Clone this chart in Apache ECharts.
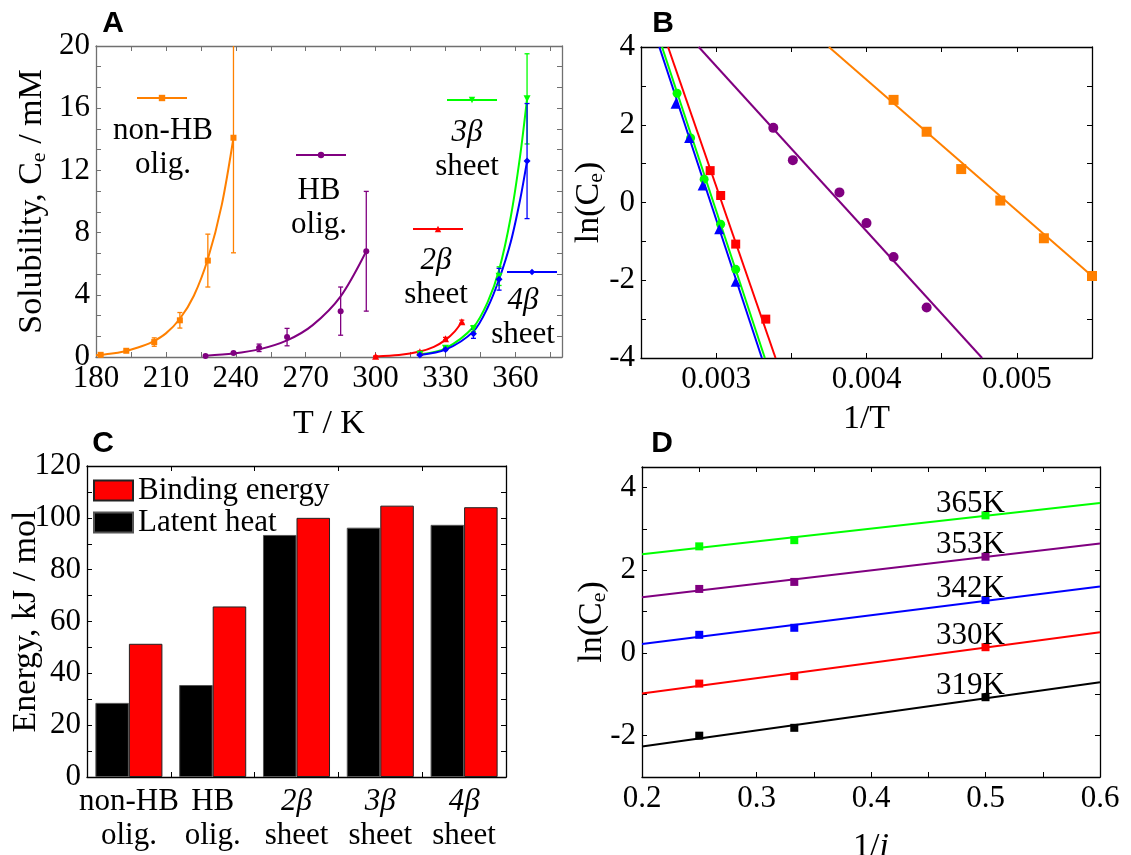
<!DOCTYPE html>
<html>
<head>
<meta charset="utf-8">
<script src="https://cdn.jsdelivr.net/npm/echarts@6/dist/echarts.min.js"></script>
<style>
  html, body { margin: 0; padding: 0; background: #fff; }
  #chart { width: 1131px; height: 855px; }
</style>
</head>
<body>
<div id="chart"></div>
<script>
// ==================== 数据 ====================

// 面板A：溶解度 vs 温度（数据点 + 误差）
const tNonHB = [182, 193, 205, 216, 228, 239];
const cNonHB = [0.14, 0.40, 0.96, 2.36, 6.2, 14.1];
const eNonHB = [0.05, 0.10, 0.27, 0.50, 1.7, 7.4];
const tHB = [227, 239, 250, 262, 285, 296];
const cHB = [0.07, 0.25, 0.59, 1.28, 2.95, 6.8];
const eHB = [0.05, 0.08, 0.24, 0.56, 1.55, 3.85];
const t2b = [300, 319, 330, 337];
const c2b = [0.05, 0.34, 1.18, 2.27];
const e2b = [0.02, 0.05, 0.08, 0.10];
const t34b = [319, 330, 342, 353, 365];
const c3b = [0.18, 0.57, 1.82, 5.2, 16.6];
const e3b = [0.03, 0.06, 0.20, 0.6, 2.9];
const c4b = [0.13, 0.48, 1.50, 5.0, 12.6];
const e4b = [0.03, 0.06, 0.30, 0.7, 3.7];

// 面板A：拟合曲线（读图取点）
const fitTNonHB = [180, 186, 192, 198, 204, 210, 216, 222, 228, 234, 239];
const fitCNonHB = [0.12, 0.21, 0.36, 0.61, 0.96, 1.52, 2.46, 3.94, 6.3, 9.8, 14.1];
const fitTHB = [227, 239, 250, 262, 273, 285, 296];
const fitCHB = [0.088, 0.225, 0.49, 1.07, 2.05, 3.9, 6.8];
const fitT2b = [300, 310, 319, 325, 330, 334, 337];
const fitC2b = [0.04, 0.13, 0.35, 0.65, 1.1, 1.65, 2.25];
const fitT34b = [319, 330, 342, 348, 353, 358, 362, 365];
const fitC3b = [0.17, 0.56, 1.93, 3.5, 5.6, 9.0, 12.9, 16.6];
const fitC4b = [0.135, 0.47, 1.65, 3.15, 5.0, 7.4, 10.1, 12.6];

// 面板B：ln(Ce) vs 1/T
const invTNonHB = [0.00418, 0.00440, 0.00463, 0.00489, 0.00518, 0.00550];
const lnNonHB = [2.64, 1.82, 0.86, 0.05, -0.92, -1.89];
const invTHB = [0.00338, 0.00351, 0.00382, 0.00400, 0.00418, 0.00440];
const lnHB = [1.92, 1.09, 0.26, -0.53, -1.40, -2.70];
const invT2b = [0.00296, 0.00303, 0.00313, 0.00333];
const ln2b = [0.82, 0.18, -1.07, -3.00];
const invT3b = [0.00274, 0.00283, 0.00292, 0.00303, 0.00313];
const ln3b = [2.81, 1.66, 0.60, -0.56, -1.72];
const invT4b = [0.00273, 0.00282, 0.00291, 0.00302, 0.00313];
const ln4b = [2.54, 1.66, 0.44, -0.69, -2.04];

// 面板B：拟合直线端点
const lineInvTNonHB = [0.00375, 0.0055];
const lineLnNonHB = [4, -1.89];
const lineInvTHB = [0.002884, 0.004769];
const lineLnHB = [4, -4];
const lineInvT2b = [0.00268, 0.003395];
const lineLn2b = [4, -4];
const lineInvT3b = [0.00264, 0.003324];
const lineLn3b = [4, -4];
const lineInvT4b = [0.002622, 0.003304];
const lineLn4b = [4, -4];

// 面板C：能量柱状图
const energyCats = ['non-HB\nolig.', 'HB\nolig.', '2β\nsheet', '3β\nsheet', '4β\nsheet'];
const latentHeat = [28.6, 35.5, 93.4, 96.2, 97.3];
const bindingEnergy = [51.4, 65.8, 100.0, 104.7, 104.1];

// 面板D：ln(Ce) vs 1/i
const invI = [0.25, 0.333, 0.5];
const tempLabels = ['365K', '353K', '342K', '330K', '319K'];
const lnC365 = [2.58, 2.73, 3.33];
const lnC353 = [1.55, 1.72, 2.33];
const lnC342 = [0.44, 0.61, 1.28];
const lnC330 = [-0.74, -0.56, 0.14];
const lnC319 = [-2.00, -1.81, -1.07];
const fitInvI = [0.2, 0.6];
const fit365 = [2.39, 3.63];
const fit353 = [1.35, 2.65];
const fit342 = [0.22, 1.61];
const fit330 = [-0.98, 0.50];
const fit319 = [-2.26, -0.71];

// ==================== 样式 ====================
const FONT = 'Liberation Serif';
const TICK_SIZE = 31;
const TITLE_SIZE = 34;
const ORANGE = '#FF8000';
const PURPLE = '#800080';
const RED = '#FF0000';
const GREEN = '#00FF00';
const BLUE = '#0000FF';

// 下标样式（Ce）
const SUB_RICH = {
  m: { fontFamily: FONT, fontSize: TITLE_SIZE, lineHeight: 40, color: '#000' },
  s: { fontFamily: FONT, fontSize: 22, lineHeight: 22, padding: [16, 0, 0, 0], verticalAlign: 'top', color: '#000' },
  i: { fontFamily: FONT, fontSize: TITLE_SIZE, fontStyle: 'italic', color: '#000' }
};
// 刻度标签用富文本，保证衬线字体
const TICK_RICH = {
  n: { fontFamily: FONT, fontSize: TICK_SIZE, color: '#000' }
};

const zip = (xs, ys) => xs.map((x, i) => [x, ys[i]]);

/**
 * 数值轴（主轴带标签，镜像轴只画刻度）
 */
function valueAxis(gridIndex, position, cfg, frame) {
  const isMain = position === 'bottom' || position === 'left';
  const fmt = cfg.formatter || (v => String(v));
  return {
    type: 'value',
    gridIndex,
    position,
    min: cfg.min,
    max: cfg.max,
    interval: cfg.interval,
    axisLine: { show: true, onZero: false, lineStyle: { color: frame, width: 1.3 } },
    axisTick: { show: true, inside: true, length: 5, lineStyle: { color: frame, width: 1 } },
    minorTick: { show: !!cfg.minor, splitNumber: cfg.minor || 2, length: 5, lineStyle: { color: frame, width: 1 } },
    splitLine: { show: false },
    minorSplitLine: { show: false },
    axisLabel: isMain ? {
      show: true,
      fontFamily: FONT,
      fontSize: TICK_SIZE,
      color: '#000',
      margin: cfg.margin == null ? 6 : cfg.margin,
      formatter: v => { const s = fmt(v); return s ? '{n|' + s + '}' : ''; },
      rich: TICK_RICH
    } : { show: false },
    name: isMain ? cfg.name : '',
    nameLocation: 'middle',
    nameGap: cfg.nameGap,
    nameMoveOverlap: false,
    nameTextStyle: { fontFamily: FONT, fontSize: TITLE_SIZE, color: '#000', rich: SUB_RICH }
  };
}

function categoryAxis(gridIndex, position, data, cfg) {
  const isMain = position === 'bottom';
  return {
    type: 'category',
    gridIndex,
    position,
    data,
    axisLine: { show: true, onZero: false, lineStyle: { color: '#000', width: 1.3 } },
    axisTick: { show: true, inside: true, length: 5, lineStyle: { color: '#000' } },
    splitLine: { show: false },
    axisLabel: isMain ? {
      show: true,
      interval: 0,
      fontFamily: FONT,
      fontSize: TICK_SIZE,
      lineHeight: 34,
      color: '#000',
      margin: cfg.margin,
      formatter: v => v.replace(/(\dβ)/, '{it|$1}'),
      rich: { it: { fontFamily: FONT, fontSize: TICK_SIZE, fontStyle: 'italic', lineHeight: 34, color: '#000' } }
    } : { show: false }
  };
}

// 坐标轴配置
const axisA_x = { min: 180, max: 380, interval: 15, formatter: v => (v % 30 === 0 ? String(v) : ''), name: 'T / K', nameGap: 50 };
const axisA_y = { min: 0, max: 20, interval: 4, minor: 3, name: '{m|Solubility, C}{s|e}{m| / mM}', nameGap: 44 };
const axisB_x = {
  min: 0.0025, max: 0.0055, interval: 0.0005,
  formatter: v => { const k = v * 1000; return Math.abs(k - Math.round(k)) < 1e-6 ? v.toFixed(3) : ''; },
  name: '1/T', nameGap: 44
};
const axisB_y = { min: -4, max: 4, interval: 2, minor: 2, name: '{m|ln(C}{s|e}{m|)}', nameGap: 32 };
const axisC_y = { min: 0, max: 120, interval: 20, minor: 2, name: 'Energy, kJ / mol', nameGap: 44 };
const axisD_x = { min: 0.2, max: 0.6, interval: 0.1, minor: 2, name: '{m|1/}{i|i}', nameGap: 50 };
const axisD_y = {
  min: -3, max: 4.5, interval: 1,
  formatter: v => (Math.abs(v % 2) < 1e-9 ? String(v) : ''),
  name: '{m|ln(C}{s|e}{m|)}', nameGap: 30
};

// ==================== 系列构造 ====================

function curve(name, xs, ys, color, axis, symbol, rotate, smooth) {
  return {
    type: 'line',
    name,
    xAxisIndex: axis,
    yAxisIndex: axis,
    data: zip(xs, ys),
    smooth: smooth ? 0.3 : false,
    symbol: symbol || 'none',
    symbolSize: 6,
    symbolRotate: rotate || 0,
    showSymbol: false,
    lineStyle: { color, width: 2 },
    itemStyle: { color },
    silent: true,
    z: 2
  };
}

function points(name, xs, ys, color, axis, symbol, size, rotate) {
  return {
    type: 'scatter',
    name,
    xAxisIndex: axis,
    yAxisIndex: axis,
    data: zip(xs, ys),
    symbol,
    symbolSize: size,
    symbolRotate: rotate || 0,
    itemStyle: { color, opacity: 1 },
    silent: true,
    z: 4
  };
}

// 误差棒（自定义系列）
function errorBars(name, xs, ys, errs, color, axis) {
  return {
    type: 'custom',
    name,
    xAxisIndex: axis,
    yAxisIndex: axis,
    clip: true,
    silent: true,
    z: 3,
    data: xs.map((x, i) => [x, ys[i] - errs[i], ys[i] + errs[i]]),
    renderItem: (params, api) => {
      const lo = api.coord([api.value(0), api.value(1)]);
      const hi = api.coord([api.value(0), api.value(2)]);
      const cap = 2.5;
      const style = { stroke: color, lineWidth: 1.3 };
      return {
        type: 'group',
        children: [
          { type: 'line', shape: { x1: lo[0], y1: lo[1], x2: hi[0], y2: hi[1] }, style },
          { type: 'line', shape: { x1: lo[0] - cap, y1: lo[1], x2: lo[0] + cap, y2: lo[1] }, style },
          { type: 'line', shape: { x1: hi[0] - cap, y1: hi[1], x2: hi[0] + cap, y2: hi[1] }, style }
        ]
      };
    }
  };
}

// 面板D：带温度标注的数据点
function dPoints(name, ys, color, tag) {
  return {
    type: 'scatter',
    name,
    xAxisIndex: 6,
    yAxisIndex: 6,
    symbol: 'rect',
    symbolSize: 8,
    itemStyle: { color, opacity: 1 },
    silent: true,
    z: 4,
    data: invI.map((x, i) => i === invI.length - 1 ? {
      value: [x, ys[i]],
      label: {
        show: true, formatter: '{n|' + tag + '}', position: 'top', distance: 0, offset: [-15, 8],
        color: '#000', opacity: 1, textBorderColor: 'transparent', textBorderWidth: 0,
        rich: TICK_RICH
      }
    } : [x, ys[i]])
  };
}

function aLegend(name, left, top) {
  return {
    data: [name],
    left, top,
    padding: 0,
    itemWidth: 50,
    itemHeight: 8,
    selectedMode: false,
    formatter: () => '',
    textStyle: { fontSize: 1 }
  };
}

function annotation(text, x, y) {
  return {
    type: 'text',
    x, y, z: 20,
    style: {
      text,
      fill: '#000',
      fontFamily: FONT,
      fontSize: TICK_SIZE,
      lineHeight: 34,
      align: 'center', verticalAlign: 'middle',
      textAlign: 'center', textVerticalAlign: 'middle',
      rich: { it: { fontFamily: FONT, fontSize: TICK_SIZE, fontStyle: 'italic', lineHeight: 34, fill: '#000' } }
    }
  };
}

function panelLetter(text, x, y) {
  return {
    type: 'text',
    x, y, z: 20,
    style: {
      text, fill: '#000',
      fontFamily: 'Liberation Sans', fontSize: 30, fontWeight: 'bold',
      align: 'center', verticalAlign: 'middle',
      textAlign: 'center', textVerticalAlign: 'middle'
    }
  };
}

// ==================== 组装 ====================
const option = {
  animation: false,
  backgroundColor: '#fff',
  textStyle: { fontFamily: FONT },
  grid: [
    { left: 96, top: 46, width: 466, height: 311, outerBoundsMode: 'none' },
    { left: 641, top: 47, width: 451, height: 311, outerBoundsMode: 'none' },
    { left: 87, top: 466, width: 419, height: 311, outerBoundsMode: 'none' },
    { left: 642, top: 467, width: 458, height: 310, outerBoundsMode: 'none' }
  ],
  xAxis: [
    valueAxis(0, 'bottom', axisA_x, '#707070'),
    valueAxis(0, 'top', axisA_x, '#707070'),
    valueAxis(1, 'bottom', axisB_x, '#000'),
    valueAxis(1, 'top', axisB_x, '#000'),
    categoryAxis(2, 'bottom', energyCats, { margin: 8 }),
    categoryAxis(2, 'top', energyCats, {}),
    valueAxis(3, 'bottom', axisD_x, '#000'),
    valueAxis(3, 'top', axisD_x, '#000')
  ],
  yAxis: [
    valueAxis(0, 'left', axisA_y, '#707070'),
    valueAxis(0, 'right', axisA_y, '#707070'),
    valueAxis(1, 'left', axisB_y, '#000'),
    valueAxis(1, 'right', axisB_y, '#000'),
    valueAxis(2, 'left', axisC_y, '#000'),
    valueAxis(2, 'right', axisC_y, '#000'),
    valueAxis(3, 'left', axisD_y, '#000'),
    valueAxis(3, 'right', axisD_y, '#000')
  ],
  legend: [
    aLegend('non-HB olig.', 136, 94),
    aLegend('HB olig.', 295, 151),
    aLegend('2β sheet', 412, 225),
    aLegend('3β sheet', 446, 96),
    aLegend('4β sheet', 506, 268),
    {
      data: ['Binding energy', 'Latent heat'],
      orient: 'vertical',
      left: 93, top: 475,
      padding: 0,
      itemWidth: 39, itemHeight: 20, itemGap: 1,
      icon: 'rect',
      selectedMode: false,
      textStyle: { fontFamily: FONT, fontSize: TICK_SIZE, color: '#000', lineHeight: 20 }
    }
  ],
  series: [
    // ---- 面板A ----
    curve('non-HB olig.', fitTNonHB, fitCNonHB, ORANGE, 0, 'rect', 0, true),
    curve('HB olig.', fitTHB, fitCHB, PURPLE, 0, 'circle', 0, true),
    curve('2β sheet', fitT2b, fitC2b, RED, 0, 'triangle', 0, true),
    curve('3β sheet', fitT34b, fitC3b, GREEN, 0, 'triangle', 180, true),
    curve('4β sheet', fitT34b, fitC4b, BLUE, 0, 'diamond', 0, true),
    errorBars('A err non-HB', tNonHB, cNonHB, eNonHB, ORANGE, 0),
    errorBars('A err HB', tHB, cHB, eHB, PURPLE, 0),
    errorBars('A err 2b', t2b, c2b, e2b, RED, 0),
    errorBars('A err 3b', t34b, c3b, e3b, GREEN, 0),
    errorBars('A err 4b', t34b, c4b, e4b, BLUE, 0),
    points('A pts non-HB', tNonHB, cNonHB, ORANGE, 0, 'rect', 6),
    points('A pts HB', tHB, cHB, PURPLE, 0, 'circle', 6),
    points('A pts 2b', t2b, c2b, RED, 0, 'triangle', 7),
    points('A pts 3b', t34b, c3b, GREEN, 0, 'triangle', 7, 180),
    points('A pts 4b', t34b, c4b, BLUE, 0, 'diamond', 7),

    // ---- 面板B ----
    curve('B fit non-HB', lineInvTNonHB, lineLnNonHB, ORANGE, 2),
    curve('B fit HB', lineInvTHB, lineLnHB, PURPLE, 2),
    curve('B fit 2b', lineInvT2b, lineLn2b, RED, 2),
    curve('B fit 3b', lineInvT3b, lineLn3b, GREEN, 2),
    curve('B fit 4b', lineInvT4b, lineLn4b, BLUE, 2),
    points('B pts non-HB', invTNonHB, lnNonHB, ORANGE, 2, 'rect', 10),
    points('B pts HB', invTHB, lnHB, PURPLE, 2, 'circle', 10),
    points('B pts 2b', invT2b, ln2b, RED, 2, 'rect', 9),
    points('B pts 3b', invT3b, ln3b, GREEN, 2, 'circle', 9),
    points('B pts 4b', invT4b, ln4b, BLUE, 2, 'triangle', 10),

    // ---- 面板C ----
    {
      type: 'bar',
      name: 'Latent heat',
      xAxisIndex: 4,
      yAxisIndex: 4,
      data: latentHeat,
      barGap: '0%',
      barCategoryGap: '20%',
      itemStyle: { color: '#000', borderColor: '#555', borderWidth: 1 },
      silent: true
    },
    {
      type: 'bar',
      name: 'Binding energy',
      xAxisIndex: 4,
      yAxisIndex: 4,
      data: bindingEnergy,
      barGap: '0%',
      barCategoryGap: '20%',
      itemStyle: { color: RED, borderColor: '#222', borderWidth: 1 },
      silent: true
    },

    // ---- 面板D ----
    curve('D fit 365', fitInvI, fit365, GREEN, 6),
    curve('D fit 353', fitInvI, fit353, PURPLE, 6),
    curve('D fit 342', fitInvI, fit342, BLUE, 6),
    curve('D fit 330', fitInvI, fit330, RED, 6),
    curve('D fit 319', fitInvI, fit319, '#000', 6),
    dPoints('D 365', lnC365, GREEN, tempLabels[0]),
    dPoints('D 353', lnC353, PURPLE, tempLabels[1]),
    dPoints('D 342', lnC342, BLUE, tempLabels[2]),
    dPoints('D 330', lnC330, RED, tempLabels[3]),
    dPoints('D 319', lnC319, '#000', tempLabels[4])
  ],
  graphic: [
    panelLetter('A', 113, 24),
    panelLetter('B', 663, 24),
    panelLetter('C', 103, 444),
    panelLetter('D', 662, 444),
    annotation('non-HB\nolig.', 163, 148),
    annotation('HB\nolig.', 319, 208),
    annotation('{it|2β}\nsheet', 436, 278),
    annotation('{it|3β}\nsheet', 467, 150),
    annotation('{it|4β}\nsheet', 523, 318)
  ]
};

const chart = echarts.init(document.getElementById('chart'));
chart.setOption(option);
</script>
</body>
</html>
